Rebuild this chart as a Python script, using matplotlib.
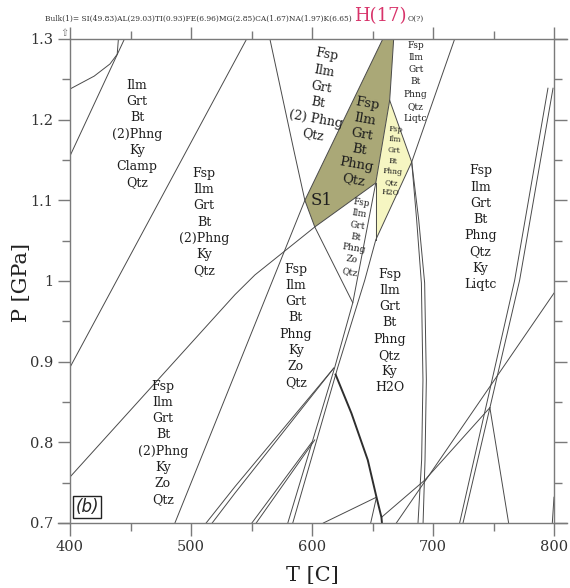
import matplotlib
matplotlib.use("Agg")
import matplotlib.pyplot as plt
from matplotlib.patches import Polygon

plt.rcParams['font.family'] = ['DejaVu Serif']

# ---------------- data (T in C, P in GPa) ----------------
x_ticks = [400, 500, 600, 700, 800]
x_tick_labels = ["400", "500", "600", "700", "800"]
x_minor = [450, 550, 650, 750]
y_ticks = [0.7, 0.8, 0.9, 1.0, 1.1, 1.2, 1.3]
y_tick_labels = ["0.7", "0.8", "0.9", "1", "1.1", "1.2", "1.3"]
y_minor = [0.75, 0.85, 0.95, 1.05, 1.15, 1.25]

A_T = [400, 420, 433, 439, 440];            A_P = [1.238, 1.254, 1.269, 1.281, 1.300]
B_T = [400, 445];                           B_P = [1.155, 1.300]
D_T = [400, 546];                           D_P = [0.893, 1.300]
E_T = [400, 536.3, 552.8, 602.3, 652.7];    E_P = [0.757, 0.983, 1.0075, 1.067, 1.1215]
F_T = [486.7, 594.1, 658.5];                F_P = [0.700, 1.100, 1.300]
G_T = [565.2, 585.0, 594.1, 602.3, 633.7];  G_P = [1.300, 1.162, 1.100, 1.067, 0.973]
L1a_T = [512.5, 536.3, 618.0];              L1a_P = [0.700, 0.745, 0.892]
L1b_T = [517.5, 536.3, 618.0];              L1b_P = [0.700, 0.737, 0.892]
L2a_T = [550.3, 599.8];                     L2a_P = [0.700, 0.800]
L2b_T = [553.9, 602.3];                     L2b_P = [0.700, 0.803]
L3a_T = [580.0, 618.8, 633.7, 652.7, 664.2, 667.5]
L3a_P = [0.700, 0.893, 0.973, 1.1215, 1.224, 1.300]
L3b_T = [584.1, 621.3, 643.6, 652.7, 682.4, 717.9]
L3b_P = [0.700, 0.893, 1.001, 1.051, 1.1475, 1.300]
YL_T = [652.7, 652.7];                      YL_P = [1.1215, 1.051]
W1_T = [664.2, 682.4, 686.5, 690.4, 691.7, 690.6, 687.6]
W1_P = [1.224, 1.1475, 1.0756, 0.9975, 0.8773, 0.778, 0.700]
W2_T = [682.4, 688.2, 693.1, 694.5, 693.4, 691.8]
W2_P = [1.1475, 1.0756, 0.9975, 0.8773, 0.778, 0.700]
K_T = [619.5, 632.6, 646.1, 653.3, 657.4, 657.8]
K_P = [0.884, 0.836, 0.778, 0.732, 0.707, 0.700]
Q_T = [609.4, 653.3];                       Q_P = [0.700, 0.732]
R_T = [648.5, 653.3];                       R_P = [0.700, 0.732]
M_T = [657.4, 693.1, 747.0];                M_P = [0.707, 0.753, 0.843]
N_T = [669.7, 800.0];                       N_P = [0.700, 0.985]
V_T = [747.0, 762.5];                       V_P = [0.843, 0.700]
Z1_T = [722.0, 767.5, 795.0];               Z1_P = [0.700, 1.001, 1.239]
Z2_T = [724.8, 771.6, 799.2];               Z2_P = [0.700, 1.001, 1.239]
S_T = [798.6, 800.0];                       S_P = [0.700, 0.732]

green_T = [658.5, 667.5, 664.2, 652.7, 602.3, 594.1]
green_P = [1.300, 1.300, 1.224, 1.1215, 1.067, 1.100]
yellow_T = [664.2, 682.4, 652.7, 652.7]
yellow_P = [1.224, 1.1475, 1.051, 1.1215]

field_texts = [
    "Ilm\nGrt\nBt\n(2)Phng\nKy\nClamp\nQtz",
    "Fsp\nIlm\nGrt\nBt\n(2)Phng\nKy\nQtz",
    "Fsp\nIlm\nGrt\nBt\n(2) Phng\nQtz",
    "Fsp\nIlm\nGrt\nBt\nPhng\nQtz",
    "S1",
    "Fsp\nIlm\nGrt\nBt\nPhng\nQtz\nH2O",
    "Fsp\nIlm\nGrt\nBt\nPhng\nZo\nQtz",
    "Fsp\nIlm\nGrt\nBt\nPhng\nQtz\nLiqtc",
    "Fsp\nIlm\nGrt\nBt\nPhng\nQtz\nKy\nLiqtc",
    "Fsp\nIlm\nGrt\nBt\nPhng\nKy\nZo\nQtz",
    "Fsp\nIlm\nGrt\nBt\nPhng\nQtz\nKy\nH2O",
    "Fsp\nIlm\nGrt\nBt\n(2)Phng\nKy\nZo\nQtz",
]
field_T = [455.3, 510.7, 606.4, 640.3, 607.8, 667.1, 636.2, 685.7, 739.4, 586.6, 664.2, 476.8]
field_P = [1.182, 1.073, 1.2306, 1.1723, 1.1004, 1.1487, 1.0545, 1.2467, 1.0663, 0.9442, 0.938, 0.7992]
field_size = [9, 9, 9, 9.5, 12, 5.5, 6.5, 6.5, 9, 9, 9, 9]
field_rot = [0, 0, -10, -10, 0, -4, -9, 0, 0, 0, 0, 0]
field_ls = [1.32, 1.32, 1.32, 1.25, 1.2, 1.44, 1.37, 1.44, 1.32, 1.32, 1.32, 1.32]

bulk_text = "Bulk(1)= SI(49.83)AL(29.03)TI(0.93)FE(6.96)MG(2.85)CA(1.67)NA(1.97)K(6.65)"
h_text = "H(17)"
o_text = "O(?)"

# ---------------- figure ----------------
W, H = 570, 588
fig = plt.figure(figsize=(W / 100, H / 100), dpi=100)
ax = fig.add_axes([70 / W, 1 - 523 / H, 484 / W, 484 / H])
ax.set_xlim(400, 800)
ax.set_ylim(0.7, 1.3)

line_c = "#4a4a4a"
frame_c = "#7a7a7a"

ax.add_patch(Polygon(list(zip(green_T, green_P)), closed=True,
                     facecolor="#aaa877", edgecolor="none", zorder=1))
ax.add_patch(Polygon(list(zip(yellow_T, yellow_P)), closed=True,
                     facecolor="#f6f6c2", edgecolor="none", zorder=1))

thin_lines = [(A_T, A_P), (B_T, B_P), (D_T, D_P), (E_T, E_P), (F_T, F_P), (G_T, G_P),
              (L1a_T, L1a_P), (L1b_T, L1b_P), (L2a_T, L2a_P), (L2b_T, L2b_P),
              (L3a_T, L3a_P), (L3b_T, L3b_P), (YL_T, YL_P), (W1_T, W1_P), (W2_T, W2_P),
              (Q_T, Q_P), (R_T, R_P), (M_T, M_P), (N_T, N_P), (V_T, V_P),
              (Z1_T, Z1_P), (Z2_T, Z2_P), (S_T, S_P)]
for tt, pp in thin_lines:
    ax.plot(tt, pp, color=line_c, lw=0.7, zorder=2, solid_joinstyle='round')
ax.plot(K_T, K_P, color="#2e2e2e", lw=1.4, zorder=2)

for txt, t, p, fs, rot, ls in zip(field_texts, field_T, field_P, field_size, field_rot, field_ls):
    ax.text(t, p, txt, fontsize=fs, rotation=rot, ha='center', va='center',
            multialignment='center', linespacing=ls, color="#1e1e1e", zorder=3)

# (b) panel tag
fig.text(87 / W, 1 - 507 / H, "(b)", fontsize=12, family=['DejaVu Sans'], style='italic',
         ha='center', va='center', color="#222222",
         bbox=dict(boxstyle='square,pad=0.12', facecolor='white', edgecolor='#222222', lw=1.0))

# frame
for side in ['top', 'bottom']:
    ax.spines[side].set_visible(False)
for side in ['left', 'right']:
    ax.spines[side].set_color(frame_c)
    ax.spines[side].set_linewidth(1.0)
ax.plot([0, 1.027], [1, 1], transform=ax.transAxes, clip_on=False, color=frame_c, lw=1.0)
ax.plot([-0.025, 1.027], [0, 0], transform=ax.transAxes, clip_on=False, color=frame_c, lw=1.0)

ax.set_xticks(x_ticks)
ax.set_xticklabels(x_tick_labels)
ax.set_xticks(x_minor, minor=True)
ax.set_yticks(y_ticks)
ax.set_yticklabels(y_tick_labels)
ax.set_yticks(y_minor, minor=True)
ax.tick_params(axis='both', which='both', direction='out', color=frame_c, width=1.0,
               top=True, bottom=True, left=True, right=True,
               labeltop=False, labelright=False, labelsize=10.5, labelcolor="#333333")
ax.tick_params(axis='both', which='major', length=9, pad=3)
ax.tick_params(axis='both', which='minor', length=5.5)

fig.text(312 / W, 1 - 575 / H, "T [C]", fontsize=15, ha='center', va='center', color="#222222")
fig.text(22 / W, 1 - 283 / H, "P [GPa]", fontsize=15, ha='center', va='center',
         rotation=90, color="#222222")

# small icon near top-left
fig.text(64 / W, 1 - 33 / H, "\u21e7", fontsize=7, family=['DejaVu Sans'], ha='center',
         va='center', color="#777777")

# title pieces
fig.canvas.draw()
r = fig.canvas.get_renderer()
base_y = 1 - 21 / H
t1 = fig.text(45 / W, base_y, bulk_text, fontsize=5.4, va='baseline', color="#333333")
bb = t1.get_window_extent(r)
t2 = fig.text((bb.x1 + 2) / W, base_y, h_text, fontsize=13, va='baseline', color="#d8336a")
bb2 = t2.get_window_extent(r)
fig.text((bb2.x1 + 1) / W, base_y, o_text, fontsize=5.4, va='baseline', color="#333333")

fig.savefig("out.png", dpi=100, facecolor='white')
